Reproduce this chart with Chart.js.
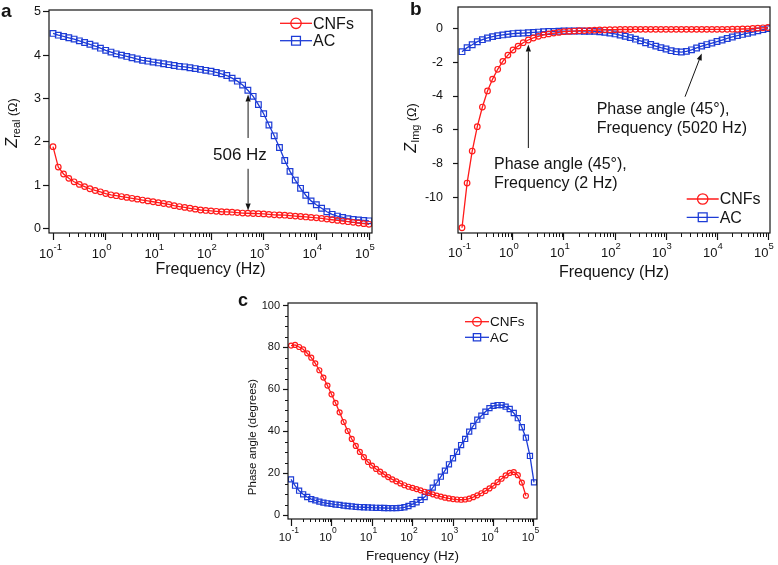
<!DOCTYPE html>
<html lang="en">
<head>
<meta charset="UTF-8" />
<title>Impedance spectra: CNFs vs AC</title>
<script src="https://cdn.jsdelivr.net/npm/chart.js"></script>
<style>
  * { margin: 0; padding: 0; box-sizing: border-box; }
  body { background: #fff; }
  .figure { position: relative; width: 778px; height: 565px; background: #fff; }
  .figure canvas { position: absolute; }
</style>
</head>
<body>
<div class="figure">
  <canvas id="panelA" width="390" height="280" style="left:0;top:0"></canvas>
  <canvas id="panelB" width="388" height="280" style="left:390px;top:0"></canvas>
  <canvas id="panelC" width="320" height="285" style="left:230px;top:280px"></canvas>
</div>

<script>
  // measured frequencies (Hz), 10 points per decade
  const freqs = [
    0.1, 0.1259, 0.1585, 0.1995, 0.2512, 0.3162, 0.3981, 0.5012, 0.631, 0.7943,
    1, 1.259, 1.585, 1.995, 2.512, 3.162, 3.981, 5.012, 6.31, 7.943,
    10, 12.59, 15.85, 19.95, 25.12, 31.62, 39.81, 50.12, 63.1, 79.43,
    100, 125.9, 158.5, 199.5, 251.2, 316.2, 398.1, 501.2, 631, 794.3,
    1000, 1259, 1585, 1995, 2512, 3162, 3981, 5012, 6310, 7943,
    10000, 12590, 15850, 19950, 25120, 31620, 39810, 50120, 63100, 79430,
    100000
  ];

  // (a) Z real (ohm)
  const zRealCNF = [
    1.89, 1.42, 1.26, 1.16, 1.08, 1.02, 0.97, 0.92, 0.88, 0.85,
    0.81, 0.78, 0.76, 0.74, 0.72, 0.70, 0.68, 0.66, 0.64, 0.62,
    0.60, 0.58, 0.56, 0.53, 0.51, 0.49, 0.47, 0.45, 0.43, 0.42,
    0.41, 0.40, 0.39, 0.385, 0.38, 0.37, 0.36, 0.355, 0.35, 0.345,
    0.34, 0.33, 0.32, 0.315, 0.31, 0.30, 0.29, 0.28, 0.27, 0.26,
    0.25, 0.235, 0.22, 0.205, 0.19, 0.175, 0.16, 0.145, 0.13, 0.115,
    0.10
  ];
  const zRealAC = [
    4.50, 4.46, 4.43, 4.40, 4.37, 4.33, 4.29, 4.25, 4.21, 4.16,
    4.11, 4.07, 4.03, 4.00, 3.97, 3.94, 3.91, 3.88, 3.86, 3.84,
    3.82, 3.80, 3.78, 3.76, 3.74, 3.73, 3.71, 3.69, 3.67, 3.65,
    3.63, 3.60, 3.57, 3.53, 3.47, 3.40, 3.31, 3.19, 3.05, 2.86,
    2.65, 2.39, 2.14, 1.87, 1.57, 1.32, 1.12, 0.93, 0.77, 0.64,
    0.55, 0.47, 0.39, 0.33, 0.29, 0.26, 0.23, 0.21, 0.20, 0.19,
    0.18
  ];

  // (b) Z imaginary (ohm)
  const zImgCNF = [
    -11.78, -9.14, -7.25, -5.81, -4.65, -3.70, -3.00, -2.42, -1.95, -1.58,
    -1.28, -1.05, -0.85, -0.69, -0.57, -0.47, -0.39, -0.33, -0.28, -0.24,
    -0.20, -0.18, -0.16, -0.14, -0.13, -0.12, -0.11, -0.10, -0.09, -0.08,
    -0.08, -0.07, -0.07, -0.07, -0.06, -0.06, -0.06, -0.06, -0.06, -0.06,
    -0.06, -0.06, -0.06, -0.06, -0.06, -0.06, -0.06, -0.06, -0.06, -0.06,
    -0.06, -0.06, -0.06, -0.05, -0.05, -0.04, -0.03, -0.01, 0.01, 0.03,
    0.05
  ];
  const zImgAC = [
    -1.38, -1.14, -0.97, -0.79, -0.67, -0.57, -0.49, -0.43, -0.39, -0.35,
    -0.31, -0.29, -0.28, -0.26, -0.24, -0.22, -0.20, -0.19, -0.18, -0.17,
    -0.16, -0.16, -0.16, -0.16, -0.17, -0.17, -0.18, -0.20, -0.24, -0.28,
    -0.33, -0.40, -0.47, -0.55, -0.64, -0.74, -0.85, -0.95, -1.05, -1.14,
    -1.22, -1.32, -1.38, -1.40, -1.36, -1.27, -1.16, -1.05, -0.96, -0.87,
    -0.78, -0.69, -0.60, -0.51, -0.43, -0.36, -0.29, -0.22, -0.15, -0.08,
    -0.02
  ];

  // (c) phase angle (degrees)
  const phaseCNF = [
    80.9, 81.2, 80.2, 79.1, 77.2, 75.1, 72.4, 69.1, 65.6, 61.8,
    57.6, 53.5, 49.0, 44.4, 40.1, 36.3, 33.0, 30.1, 27.6, 25.3,
    23.6, 22.0, 20.7, 19.4, 18.1, 17.0, 16.1, 15.1, 14.2, 13.5,
    13.0, 12.4, 11.8, 11.1, 10.5, 9.9, 9.3, 8.8, 8.3, 7.9,
    7.6, 7.4, 7.3, 7.4, 7.8, 8.5, 9.4, 10.4, 11.5, 12.7,
    14.0, 15.7, 17.3, 18.9, 20.1, 20.5, 19.0, 15.5, 9.2
  ];
  const phaseAC = [
    17.0, 14.0, 11.6, 9.9, 8.6, 7.6, 7.0, 6.4, 5.9, 5.6,
    5.3, 5.0, 4.8, 4.5, 4.3, 4.1, 3.9, 3.8, 3.7, 3.6,
    3.5, 3.45, 3.4, 3.35, 3.3, 3.3, 3.3, 3.4, 3.7, 4.3,
    5.2, 6.1, 7.2, 8.6, 10.7, 13.1, 15.5, 18.3, 21.2, 24.2,
    27.1, 30.2, 33.4, 36.3, 39.8, 42.5, 45.5, 47.4, 49.3, 51.0,
    52.1, 52.5, 52.5, 51.7, 50.6, 48.7, 46.2, 41.9, 36.9, 28.2,
    15.6
  ];

  // tick values
  const decadeTicks = [0.1, 1, 10, 100, 1000, 10000, 100000];
  const zRealTicks = [0, 1, 2, 3, 4, 5];
  const zImgTicks = [-10, -8, -6, -4, -2, 0];
  const phaseTicks = [0, 20, 40, 60, 80, 100];
  const phaseMinor = [5, 10, 15, 25, 30, 35, 45, 50, 55, 65, 70, 75, 85, 90, 95];

  const minorFreqs = [];
  for (let e = -1; e <= 4; e++) {
    for (let k = 2; k <= 9; k++) minorFreqs.push(k * Math.pow(10, e));
  }

  const RED = '#ff1a1a';
  const BLUE = '#1d3cd6';
  const INK = '#141414';
  const FAMILY = '"Liberation Sans", Arial, sans-serif';

  const pts = (ys) => ys.map((y, i) => ({ x: freqs[i], y }));

  function drawArrow(ctx, x1, y1, x2, y2) {
    const ang = Math.atan2(y2 - y1, x2 - x1);
    const L = 7, W = 2.6;
    const c = Math.cos(ang), s = Math.sin(ang);
    ctx.beginPath();
    ctx.moveTo(x1, y1);
    ctx.lineTo(x2 - L * c, y2 - L * s);
    ctx.stroke();
    ctx.beginPath();
    ctx.moveTo(x2, y2);
    ctx.lineTo(x2 - L * c + W * s, y2 - L * s - W * c);
    ctx.lineTo(x2 - L * c - W * s, y2 - L * s + W * c);
    ctx.closePath();
    ctx.fill();
  }

  // frame, minor ticks, decade labels, titles, legend, notes
  const deco = {
    id: 'deco',
    afterDraw(chart, args, o) {
      const { ctx, chartArea: a } = chart;
      const xs = chart.scales.x, ys = chart.scales.y;
      ctx.save();
      ctx.strokeStyle = INK;
      ctx.fillStyle = INK;

      ctx.lineWidth = 1.2;
      ctx.strokeRect(a.left, a.top, a.right - a.left, a.bottom - a.top);

      ctx.lineWidth = 1;
      ctx.beginPath();
      minorFreqs.forEach(v => {
        const px = Math.round(xs.getPixelForValue(v)) + 0.5;
        ctx.moveTo(px, a.bottom);
        ctx.lineTo(px, a.bottom + o.minorLen);
      });
      (o.minorY || []).forEach(v => {
        const py = Math.round(ys.getPixelForValue(v)) + 0.5;
        ctx.moveTo(a.left, py);
        ctx.lineTo(a.left - o.minorLen, py);
      });
      ctx.stroke();

      ctx.textBaseline = 'alphabetic';
      ctx.textAlign = 'left';
      decadeTicks.forEach(v => {
        const px = xs.getPixelForValue(v);
        const exp = String(Math.round(Math.log10(v)));
        ctx.font = o.tickFont;
        const w = ctx.measureText('10').width;
        ctx.fillText('10', px - w + 0.5, o.labelY);
        ctx.font = o.supFont;
        ctx.fillText(exp, px + 0.5, o.supY);
      });

      ctx.font = o.titleFont;
      ctx.textAlign = 'center';
      ctx.fillText('Frequency (Hz)', (a.left + a.right) / 2, o.titleY);

      // rotated y title built from pieces (italic Z, subscript)
      const t = o.yTitle;
      ctx.save();
      ctx.translate(t.x, t.y);
      ctx.rotate(-Math.PI / 2);
      ctx.textAlign = 'left';
      let total = 0;
      t.parts.forEach(p => { ctx.font = p[1]; total += ctx.measureText(p[0]).width; });
      let cx = -total / 2;
      t.parts.forEach(p => {
        ctx.font = p[1];
        ctx.fillText(p[0], cx, t.base + p[2]);
        cx += ctx.measureText(p[0]).width;
      });
      ctx.restore();

      ctx.textAlign = 'left';
      ctx.font = o.letterFont;
      ctx.fillText(o.letter, o.letterX, o.letterY);

      // legend: line with marker in the middle
      const lg = o.legend;
      ctx.font = lg.font;
      ctx.textBaseline = 'middle';
      chart.data.datasets.forEach((ds, k) => {
        const y = lg.y[k];
        const mid = lg.x + lg.len / 2;
        ctx.strokeStyle = ds.borderColor;
        ctx.lineWidth = 1.3;
        ctx.beginPath();
        ctx.moveTo(lg.x, y);
        ctx.lineTo(lg.x + lg.len, y);
        ctx.stroke();
        ctx.beginPath();
        if (ds.pointStyle === 'rect') {
          ctx.rect(mid - lg.r * 0.85, y - lg.r * 0.85, lg.r * 1.7, lg.r * 1.7);
        } else {
          ctx.arc(mid, y, lg.r, 0, Math.PI * 2);
        }
        ctx.stroke();
        ctx.fillStyle = INK;
        ctx.fillText(ds.label, lg.x + lg.len + 1, y + 1);
      });

      ctx.strokeStyle = INK;
      ctx.fillStyle = INK;
      ctx.lineWidth = 1;
      (o.arrows || []).forEach(ar => {
        drawArrow(ctx,
          xs.getPixelForValue(ar[0]), ys.getPixelForValue(ar[1]),
          xs.getPixelForValue(ar[2]), ys.getPixelForValue(ar[3]));
      });
      ctx.textBaseline = 'alphabetic';
      (o.notes || []).forEach(n => {
        ctx.font = n.font;
        ctx.fillText(n.text, n.x, n.y);
      });

      ctx.restore();
    }
  };

  function series(label, values, color, style, r) {
    return {
      label,
      data: pts(values),
      borderColor: color,
      backgroundColor: color,
      borderWidth: 1.3,
      pointStyle: style,
      pointRadius: r,
      pointBorderWidth: 1.2,
      pointBackgroundColor: 'rgba(0,0,0,0)',
      tension: 0
    };
  }

  function makePanel(id, cfg) {
    return new Chart(document.getElementById(id), {
      type: 'line',
      data: { datasets: cfg.datasets },
      plugins: [deco],
      options: {
        responsive: false,
        animation: false,
        devicePixelRatio: 1,
        layout: { padding: cfg.padding },
        scales: {
          x: {
            type: 'logarithmic',
            min: cfg.xMin,
            max: cfg.xMax,
            afterBuildTicks: s => { s.ticks = decadeTicks.map(v => ({ value: v, major: true })); },
            afterFit: s => { s.height = cfg.xHeight; s.paddingLeft = 0; s.paddingRight = 0; },
            ticks: { display: false, autoSkip: false },
            grid: { drawOnChartArea: false, tickLength: 7, tickColor: INK, tickWidth: 1.2 },
            border: { display: false }
          },
          y: {
            min: cfg.yMin,
            max: cfg.yMax,
            afterBuildTicks: s => { s.ticks = cfg.yTicks.map(v => ({ value: v })); },
            afterFit: s => { s.width = cfg.yWidth; s.paddingTop = 0; s.paddingBottom = 0; },
            ticks: {
              autoSkip: false,
              padding: cfg.yPad,
              color: INK,
              font: { family: FAMILY, size: cfg.yFont }
            },
            grid: { drawOnChartArea: false, tickLength: cfg.yTick, tickColor: INK, tickWidth: 1.2 },
            border: { display: false }
          }
        },
        plugins: {
          legend: { display: false },
          tooltip: { enabled: false },
          deco: cfg.deco
        }
      }
    });
  }

  // (a) real part
  makePanel('panelA', {
    datasets: [
      series('CNFs', zRealCNF, RED, 'circle', 2.8),
      series('AC', zRealAC, BLUE, 'rect', 4.0)
    ],
    padding: { top: 10, right: 18, left: 0, bottom: 0 },
    xMin: 0.0839, xMax: 114000, xHeight: 47,
    yMin: -0.10, yMax: 5.04, yTicks: zRealTicks,
    yWidth: 49, yPad: 2, yTick: 6, yFont: 12.5,
    deco: {
      minorLen: 4,
      tickFont: '13px ' + FAMILY, supFont: '9.5px ' + FAMILY,
      labelY: 257.5, supY: 250,
      titleFont: '16px ' + FAMILY, titleY: 273.5,
      yTitle: {
        x: 11, y: 123, base: 5.5,
        parts: [['Z', 'italic 16px ' + FAMILY, 0], ['real', '11px ' + FAMILY, 3.5], [' (\u03A9)', '12.5px ' + FAMILY, 0]]
      },
      letter: 'a', letterFont: 'bold 19px ' + FAMILY, letterX: 1, letterY: 17,
      legend: { x: 280, y: [23.3, 40.7], len: 32, r: 5.2, font: '16px ' + FAMILY },
      arrows: [[506, 2.09, 506, 3.09], [506, 1.38, 506, 0.42]],
      notes: [{ text: '506 Hz', x: 213, y: 160, font: '17px ' + FAMILY }]
    }
  });

  // (b) imaginary part
  makePanel('panelB', {
    datasets: [
      series('CNFs', zImgCNF, RED, 'circle', 2.8),
      series('AC', zImgAC, BLUE, 'rect', 4.0)
    ],
    padding: { top: 7, right: 8, left: 0, bottom: 0 },
    xMin: 0.0835, xMax: 109400, xHeight: 47,
    yMin: -12.09, yMax: 1.26, yTicks: zImgTicks,
    yWidth: 68, yPad: 10, yTick: 5, yFont: 12.5,
    deco: {
      minorLen: 4,
      tickFont: '13px ' + FAMILY, supFont: '9.5px ' + FAMILY,
      labelY: 256.5, supY: 249,
      titleFont: '16px ' + FAMILY, titleY: 276.5,
      yTitle: {
        x: 20, y: 128, base: 5.5,
        parts: [['Z', 'italic 16px ' + FAMILY, 0], ['Img', '11px ' + FAMILY, 3.5], [' (\u03A9)', '12.5px ' + FAMILY, 0]]
      },
      letter: 'b', letterFont: 'bold 19px ' + FAMILY, letterX: 20, letterY: 15,
      legend: { x: 296.7, y: [199, 217.3], len: 32, r: 5.2, font: '16px ' + FAMILY },
      arrows: [[2, -7.07, 2, -0.95], [2360, -4.04, 5020, -1.48]],
      notes: [
        { text: 'Phase angle (45\u00B0),', x: 104, y: 169, font: '16px ' + FAMILY },
        { text: 'Frequency (2 Hz)', x: 104, y: 187.5, font: '16px ' + FAMILY },
        { text: 'Phase angle (45\u00B0),', x: 206.7, y: 114, font: '16px ' + FAMILY },
        { text: 'Frequency (5020 Hz)', x: 206.7, y: 132.5, font: '16px ' + FAMILY }
      ]
    }
  });

  // (c) phase angle
  makePanel('panelC', {
    datasets: [
      series('CNFs', phaseCNF, RED, 'circle', 2.5),
      series('AC', phaseAC, BLUE, 'rect', 3.6)
    ],
    padding: { top: 23, right: 13, left: 0, bottom: 0 },
    xMin: 0.0843, xMax: 118600, xHeight: 46,
    yMin: -1.9, yMax: 101.2, yTicks: phaseTicks,
    yWidth: 58, yPad: 3, yTick: 5, yFont: 11,
    deco: {
      minorLen: 3, minorY: phaseMinor,
      tickFont: '11.5px ' + FAMILY, supFont: '8.5px ' + FAMILY,
      labelY: 261, supY: 253,
      titleFont: '13.5px ' + FAMILY, titleY: 279.5,
      yTitle: {
        x: 21, y: 157, base: 4.5,
        parts: [['Phase angle (degrees)', '11.5px ' + FAMILY, 0]]
      },
      letter: 'c', letterFont: 'bold 18px ' + FAMILY, letterX: 8, letterY: 25.5,
      legend: { x: 235, y: [41.7, 57.3], len: 24, r: 4.3, font: '13.5px ' + FAMILY }
    }
  });
</script>
</body>
</html>
